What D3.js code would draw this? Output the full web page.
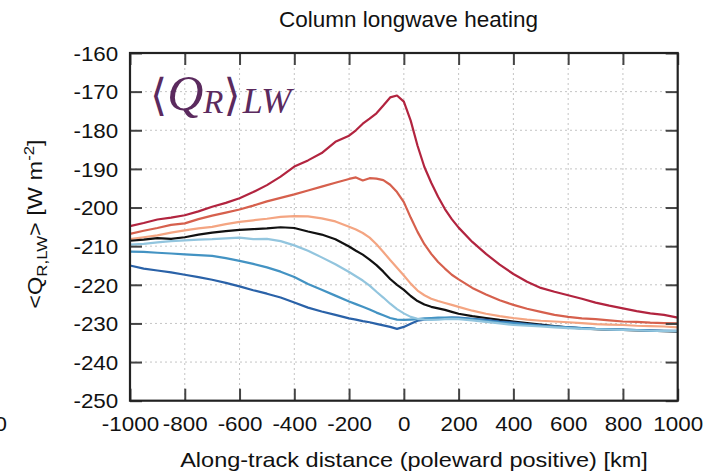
<!DOCTYPE html>
<html>
<head>
<meta charset="utf-8">
<script src="https://cdn.jsdelivr.net/npm/d3@7"></script>
<style>
  body { margin: 0; background: #fff; }
  text { font-family: "Liberation Sans", Arial, sans-serif; fill: #111; }
</style>
</head>
<body>
<svg id="chart" width="717" height="475"></svg>
<script>
// Along-track distance grid (km, poleward positive)
const distance = [
  -1000, -950, -900, -850, -800, -750, -700, -650, -600, -550, -500, -450, -400, -350, -300, -250, -200,
  -175, -150, -125, -100, -75, -50, -25, 0, 25, 50, 75, 100, 125, 150, 175, 200,
  250, 300, 350, 400, 450, 500, 550, 600, 650, 700, 750, 800, 850, 900, 950, 1000
];

// Column longwave heating <Q_R,LW> [W m^-2], one series per composite class
const qDarkRed = [
  -204.8, -204.0, -203.1, -202.6, -202.0, -201.0, -199.8, -198.8, -197.6, -196.0, -194.2, -192.0, -189.4, -187.8, -185.9, -183.0, -181.4,
  -180.0, -178.3, -177.0, -175.6, -173.6, -171.5, -171.0, -172.6, -177.5, -184.0, -189.5, -193.6, -197.2, -200.4, -203.0, -205.2,
  -208.9, -212.0, -214.8, -217.2, -219.2, -220.8, -221.8, -222.7, -223.6, -224.6, -225.4, -226.1, -226.8, -227.4, -227.8, -228.5
];
const qMidRed = [
  -206.8, -206.0, -205.3, -204.5, -204.1, -203.0, -202.1, -201.3, -200.5, -199.5, -198.4, -197.5, -196.6, -195.6, -194.6, -193.6, -192.6,
  -192.2, -193.0, -192.4, -192.5, -192.9, -194.1, -196.0, -198.6, -202.6, -206.3, -209.5, -212.0, -214.1, -215.8, -217.4, -218.6,
  -220.8, -222.5, -224.0, -225.2, -226.2, -227.0, -227.8, -228.3, -228.7, -228.9, -229.2, -229.5, -229.6, -229.8, -229.9, -230.0
];
const qLightRed = [
  -208.2, -207.7, -207.2, -206.5, -205.9, -205.4, -205.0, -204.3, -203.7, -203.3, -202.9, -202.4, -202.2, -202.3, -202.8, -203.6, -205.0,
  -205.7, -206.6, -207.8, -209.5, -211.5, -213.6, -215.6, -217.6, -219.7, -221.5, -222.7, -223.6, -224.2, -224.7, -225.2, -225.7,
  -226.7, -227.5, -228.1, -228.6, -229.0, -229.3, -229.5, -229.7, -229.9, -230.2, -230.3, -230.4, -230.6, -230.7, -230.8, -231.0
];
const qAll = [
  -208.6, -208.3, -207.9, -208.1, -207.7, -207.0, -206.5, -206.1, -205.8, -205.6, -205.4, -205.1, -205.3, -206.2, -207.0, -208.2, -210.1,
  -211.2, -212.2, -213.5, -214.9, -216.6, -218.5, -220.0, -221.3, -222.9, -224.2, -225.1, -225.7, -226.1, -226.5, -227.0, -227.5,
  -228.1, -228.6, -229.1, -229.5, -229.9, -230.3, -230.7, -231.0, -231.3, -231.5, -231.6, -231.7, -231.8, -231.9, -232.0, -232.1
];
const qLightBlue = [
  -209.6, -209.4, -209.0, -208.7, -208.5, -208.3, -208.2, -208.0, -207.8, -208.2, -208.1, -208.7, -209.8, -211.2, -212.9, -214.7, -216.7,
  -217.8, -218.9, -220.2, -221.8, -223.3, -224.9, -226.3, -227.4, -228.3, -228.8, -229.0, -229.1, -229.0, -228.9, -228.8, -228.9,
  -229.2, -229.6, -230.0, -230.4, -230.6, -230.8, -231.0, -231.2, -231.4, -231.5, -231.6, -231.7, -231.8, -231.9, -232.0, -232.0
];
const qMidBlue = [
  -211.4, -211.5, -211.7, -211.9, -212.1, -212.3, -212.5, -213.1, -213.8, -214.6, -215.5, -216.6, -218.0, -219.8, -221.3, -222.8, -224.3,
  -225.0, -225.7, -226.4, -227.2, -227.9, -228.6, -229.0, -229.1, -229.0, -228.9, -228.7, -228.6, -228.5, -228.5, -228.5, -228.6,
  -228.9, -229.3, -229.7, -230.0, -230.3, -230.6, -230.8, -231.0, -231.2, -231.4, -231.5, -231.6, -231.7, -231.9, -231.9, -232.0
];
const qDarkBlue = [
  -215.0, -215.8, -216.3, -216.8, -217.4, -218.0, -218.7, -219.5, -220.4, -221.4, -222.3, -223.3, -224.6, -225.9, -226.9, -227.8, -228.7,
  -229.0, -229.4, -229.7, -230.1, -230.5, -230.9, -231.4, -230.9, -230.1, -229.3, -229.0, -228.9, -228.7, -228.6, -228.5, -228.5,
  -228.8, -229.1, -229.5, -229.8, -230.2, -230.5, -230.8, -231.0, -231.2, -231.4, -231.5, -231.6, -231.7, -231.8, -231.9, -231.9
];

const xTicks = [-1000, -800, -600, -400, -200, 0, 200, 400, 600, 800, 1000];
const yTicks = [-250, -240, -230, -220, -210, -200, -190, -180, -170, -160];

// drawing order: reds, composite mean, then blues on top
const series = [
  { values: qDarkRed,   color: "#b2243f" },
  { values: qMidRed,    color: "#d6604d" },
  { values: qLightRed,  color: "#f4a582" },
  { values: qAll,       color: "#111111" },
  { values: qDarkBlue,  color: "#2a62a8" },
  { values: qMidBlue,   color: "#4393c3" },
  { values: qLightBlue, color: "#92c5de" }
];

const svg = d3.select("#chart");
const plot = { left: 130, right: 677.7, top: 53, bottom: 400.7 };

const x = d3.scaleLinear().domain([-1000, 1000]).range([plot.left, plot.right]);
const y = d3.scaleLinear().domain([-250, -160]).range([plot.bottom, plot.top]);

const stretch = "scale(1.12,1)";
const plain = d => String(d);   // hyphen-minus labels

// dotted grid
const grid = svg.append("g");
grid.selectAll("line.gx").data(xTicks.slice(1, -1)).join("line")
  .attr("x1", d => x(d)).attr("x2", d => x(d))
  .attr("y1", plot.top).attr("y2", plot.bottom)
  .attr("stroke", "#c4c4c4").attr("stroke-width", 1).attr("stroke-dasharray", "2,3");
grid.selectAll("line.gy").data(yTicks.slice(1, -1)).join("line")
  .attr("x1", plot.left).attr("x2", plot.right)
  .attr("y1", d => y(d)).attr("y2", d => y(d))
  .attr("stroke", "#c4c4c4").attr("stroke-width", 1).attr("stroke-dasharray", "2,3");

// curves
const line = d3.line().x((d, i) => x(distance[i])).y(d => y(d));
svg.append("g").selectAll("path").data(series).join("path")
  .attr("d", s => line(s.values))
  .attr("fill", "none")
  .attr("stroke", s => s.color)
  .attr("stroke-width", 2.2)
  .attr("stroke-linejoin", "round");

// axes with inward ticks on all four sides
function styleAxis(g) {
  g.select(".domain").remove();
  g.selectAll(".tick line").attr("stroke", "#444").attr("stroke-width", 2);
  g.selectAll(".tick text")
    .style("font-family", '"Liberation Sans", Arial, sans-serif')
    .style("font-size", "20px").attr("fill", "#111");
}

svg.append("g").attr("transform", `translate(${plot.left},0)`)
  .call(d3.axisLeft(y).tickValues(yTicks).tickSize(-12).tickPadding(10.5).tickFormat(plain))
  .call(styleAxis)
  .call(g => g.selectAll(".tick text").attr("transform", stretch).attr("dy", "0.36em"));

svg.append("g").attr("transform", `translate(0,${plot.bottom})`)
  .call(d3.axisBottom(x).tickValues(xTicks).tickSize(-12).tickPadding(16).tickFormat(plain))
  .call(styleAxis)
  .call(g => g.selectAll(".tick text").attr("transform", stretch));

svg.append("g").attr("transform", `translate(0,${plot.top})`)
  .call(d3.axisTop(x).tickValues(xTicks).tickSize(-12).tickFormat(""))
  .call(styleAxis);

svg.append("g").attr("transform", `translate(${plot.right},0)`)
  .call(d3.axisRight(y).tickValues(yTicks).tickSize(-12).tickFormat(""))
  .call(styleAxis);

// frame
svg.append("rect")
  .attr("x", plot.left).attr("y", plot.top)
  .attr("width", plot.right - plot.left).attr("height", plot.bottom - plot.top)
  .attr("fill", "none").attr("stroke", "#222").attr("stroke-width", 2.2);

// title
svg.append("text")
  .attr("x", 408.5).attr("y", 26.5)
  .attr("text-anchor", "middle")
  .style("font-size", "22.5px")
  .text("Column longwave heating");

// x axis label
svg.append("g").attr("transform", `translate(414,466.5) ${stretch}`)
  .append("text").attr("text-anchor", "middle").style("font-size", "21px")
  .text("Along-track distance (poleward positive) [km]");

// y axis label
const yl = svg.append("g").attr("transform", "translate(41.5,224) rotate(-90) scale(1.12,1)")
  .append("text").attr("text-anchor", "middle").style("font-size", "21px");
yl.append("tspan").text("<Q");
yl.append("tspan").attr("dy", 5).style("font-size", "15px").text("R,LW");
yl.append("tspan").attr("dy", -5).text("> [W m");
yl.append("tspan").attr("dy", -8).style("font-size", "15px").text("-2");
yl.append("tspan").attr("dy", 8).text("]");

// tick label of the neighbouring panel, cut at the left edge
svg.append("g").attr("transform", `translate(7,431) ${stretch}`)
  .append("text").attr("text-anchor", "end").style("font-size", "20px").text("1000");

// quantity symbol
const sym = svg.append("text")
  .attr("x", 150).attr("y", 110)
  .style("font-family", '"DejaVu Serif", "Liberation Serif", serif')
  .style("fill", "#5b2a5e");
sym.append("tspan").style("font-size", "44px").style("font-family", '"DejaVu Serif", serif').text("\u27E8");
sym.append("tspan").style("font-size", "50px").style("font-style", "italic")
  .style("font-family", '"Liberation Serif", serif').text("Q");
sym.append("tspan").attr("dy", 3).style("font-size", "33px").style("font-style", "italic")
  .style("font-family", '"Liberation Serif", serif').text("R");
sym.append("tspan").attr("dy", -3).style("font-size", "44px").style("font-family", '"DejaVu Serif", serif').text("\u27E9");
sym.append("tspan").attr("dy", 3).attr("dx", 2).style("font-size", "36px").style("font-style", "italic")
  .style("font-family", '"Liberation Serif", serif').text("LW");
</script>
</body>
</html>
